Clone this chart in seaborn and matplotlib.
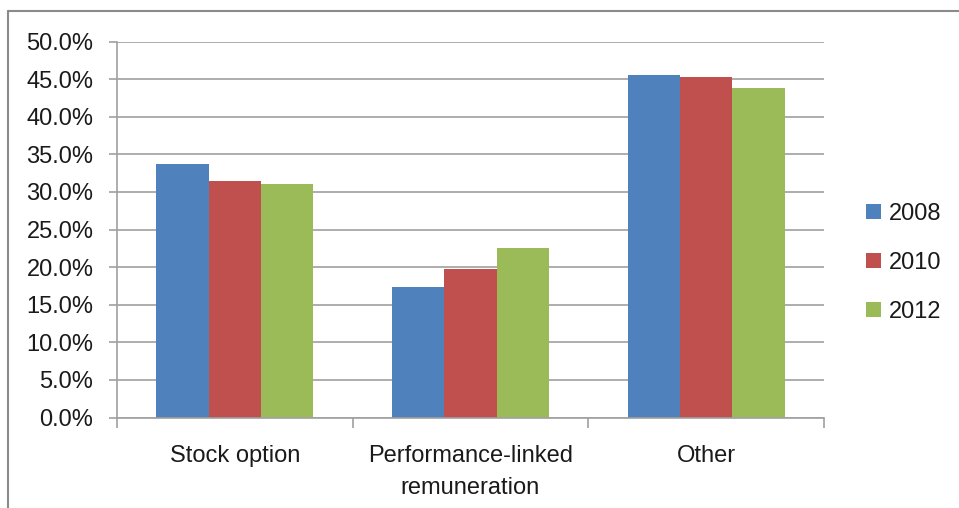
import matplotlib
matplotlib.use("Agg")
import matplotlib.pyplot as plt
from matplotlib.lines import Line2D
from matplotlib.ticker import FuncFormatter, FixedLocator
import pandas as pd
import seaborn as sns

categories = ["Stock option", "Performance-linked\nremuneration", "Other"]
years = ["2008", "2010", "2012"]
share_2008 = [33.7, 17.3, 45.5]
share_2010 = [31.5, 19.7, 45.3]
share_2012 = [31.1, 22.6, 43.8]
colors = ["#4F81BD", "#C0504D", "#9BBB59"]

rows = []
for year, vals in zip(years, [share_2008, share_2010, share_2012]):
    for cat, v in zip(categories, vals):
        rows.append({"category": cat, "year": year, "share": v})
df = pd.DataFrame(rows)

sns.set_theme(style="white")
plt.rcParams["font.family"] = ["Liberation Sans", "DejaVu Sans"]
text_color = "#1a1a1a"
grid_color = "#A0A0A0"
fs = 17

fig = plt.figure(figsize=(9.59, 5.08), dpi=100)
ax = fig.add_axes([117 / 959, 1 - 417.5 / 508, (824 - 117) / 959, (417.5 - 41.5) / 508])

sns.barplot(data=df, x="category", y="share", hue="year", order=categories,
            hue_order=years, palette=colors, width=0.667, saturation=1,
            edgecolor="none", linewidth=0, ax=ax)

ax.set_ylim(0, 50)
ax.set_xlim(-0.5, 2.5)
ax.set_yticks([i * 5 for i in range(11)])
ax.yaxis.set_major_formatter(FuncFormatter(lambda v, _: f"{v:.1f}%"))
ax.set_axisbelow(True)
ax.yaxis.grid(True, color=grid_color, linewidth=1.2)
ax.xaxis.grid(False)

for side in ["top", "right"]:
    ax.spines[side].set_visible(False)
for side in ["left", "bottom"]:
    ax.spines[side].set_color(grid_color)
    ax.spines[side].set_linewidth(1.2)

ax.set_xlabel("")
ax.set_ylabel("")
ax.tick_params(axis="y", which="major", left=True, length=6, width=1.2,
               color=grid_color, pad=11, labelsize=fs, labelcolor=text_color)
ax.tick_params(axis="x", which="major", bottom=False, length=0, pad=20,
               labelsize=fs, labelcolor=text_color)
ax.xaxis.set_minor_locator(FixedLocator([-0.5, 0.5, 1.5, 2.5]))
ax.tick_params(axis="x", which="minor", bottom=True, length=7, width=1.2,
               color=grid_color, direction="out")
for lbl in ax.get_xticklabels():
    lbl.set_linespacing(1.55)

ax.get_legend().remove()
handles = [plt.Rectangle((0, 0), 1, 1, facecolor=c, edgecolor="none") for c in colors]
fig.legend(handles, years, loc="center left", bbox_to_anchor=(866 / 959, 1 - 263 / 508),
           bbox_transform=fig.transFigure, frameon=False, fontsize=fs,
           handlelength=0.62, handleheight=0.62, handletextpad=0.35,
           labelspacing=1.15, borderpad=0, borderaxespad=0, labelcolor=text_color)

# outer frame: left and top edges
frame_color = "#8A8A8A"
x0 = 8 / 959
y0 = 1 - 11 / 508
fig.add_artist(Line2D([x0, x0], [0, y0], color=frame_color, linewidth=1.5))
fig.add_artist(Line2D([x0, 1], [y0, y0], color=frame_color, linewidth=1.5))

fig.savefig("out.png", dpi=100)
